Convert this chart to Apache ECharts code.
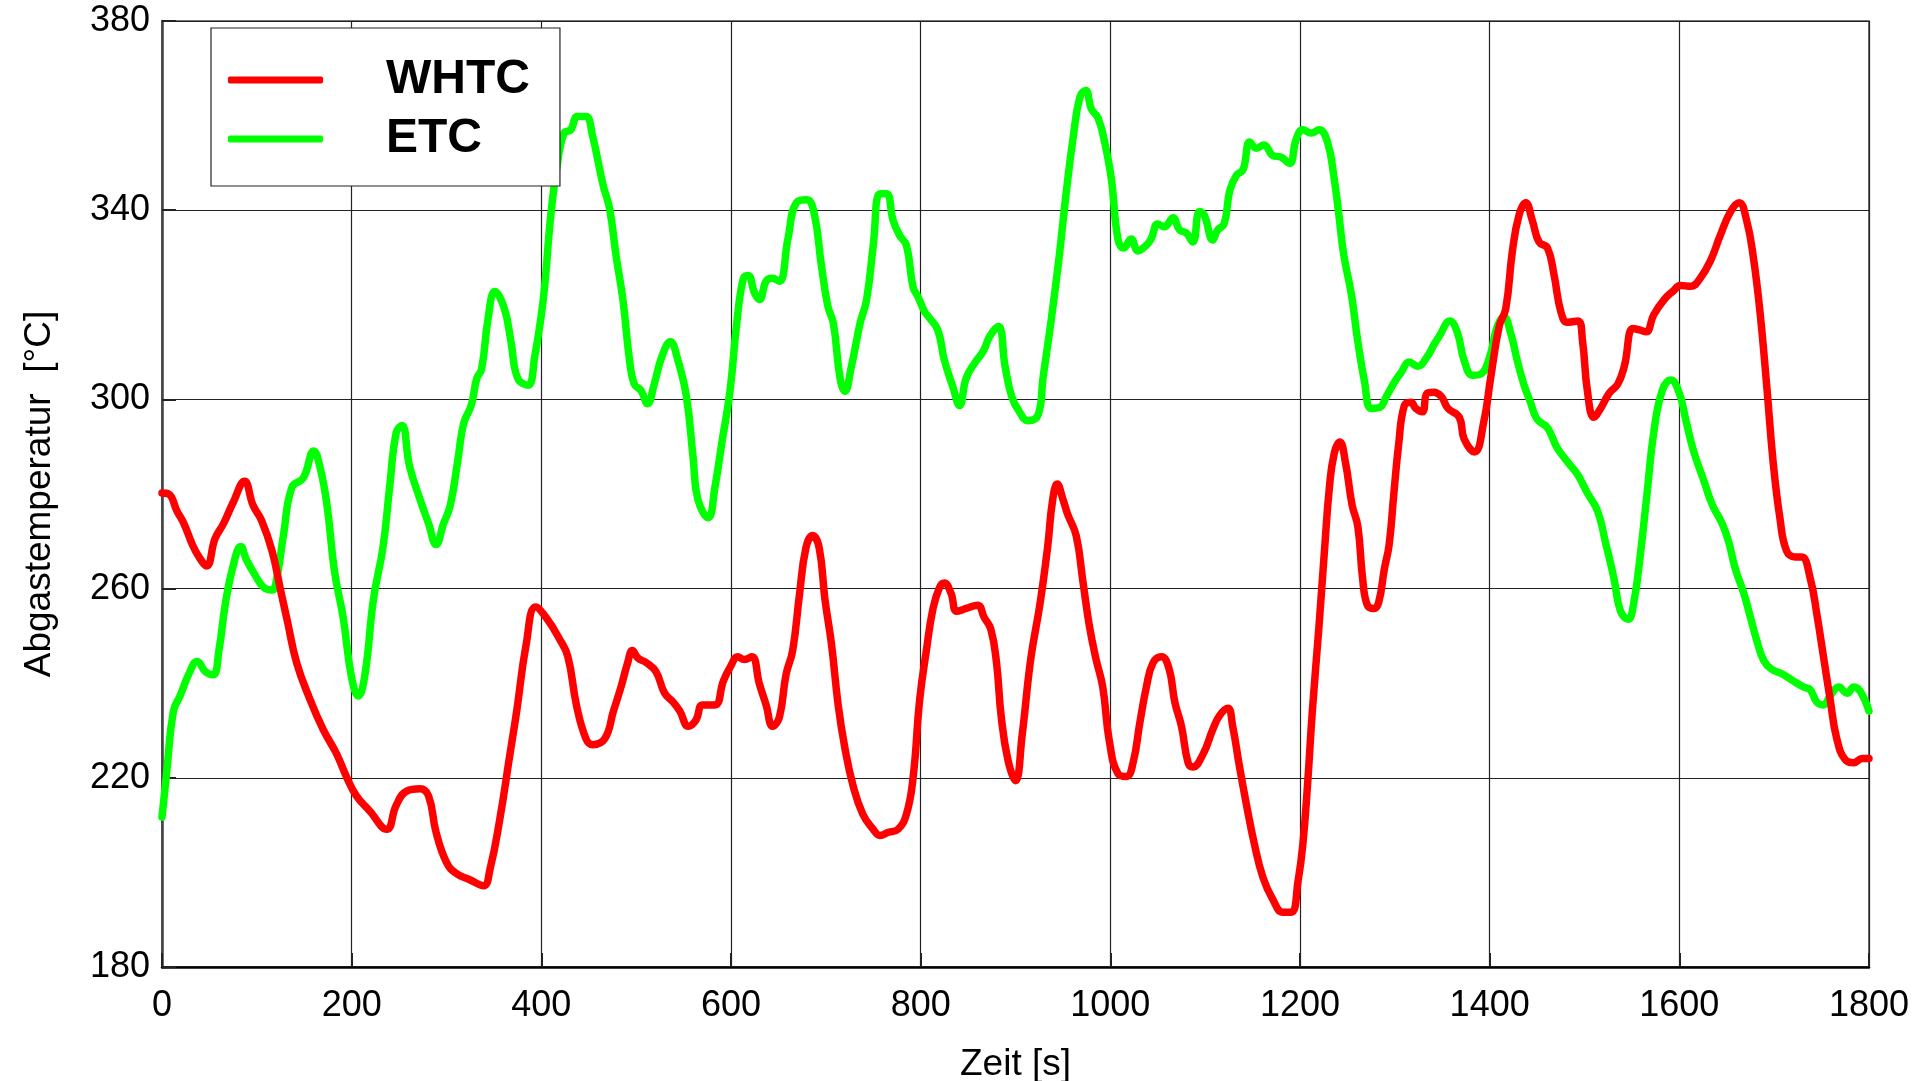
<!DOCTYPE html>
<html>
<head>
<meta charset="utf-8">
<script src="https://cdn.jsdelivr.net/npm/echarts@6/dist/echarts.min.js"></script>
<style>
  html, body { margin: 0; padding: 0; background: #fff; }
  #panel { width: 1915px; height: 1081px; }
</style>
</head>
<body>
<div id="panel"></div>
<script>
// Zeit [s] / Abgastemperatur [°C]
var whtcTime = [0,7,16,23,32,39,47,56,65,75,87,96,105,116,125,132,142,156,170,184,195,205,219,237,247,258,272,281,289,300,310,324,339,346,356,367,374,384,394,405,419,428,437,447,454,467,476,484,491,496,502,511,521,530,539,546,555,563,570,583,592,600,607,614,622,630,637,644,651,658,665,672,679,686,693,699,706,713,720,729,739,750,757,766,776,785,792,799,806,813,820,825,832,838,848,860,867,874,880,885,892,900,907,916,926,934,939,944,950,955,964,971,978,985,992,999,1008,1017,1024,1031,1038,1045,1054,1062,1068,1075,1082,1087,1098,1108,1115,1124,1129,1136,1143,1152,1161,1171,1182,1191,1198,1203,1208,1213,1220,1226,1231,1236,1242,1248,1255,1261,1266,1271,1278,1283,1289,1294,1299,1304,1310,1317,1322,1329,1334,1341,1349,1356,1368,1373,1384,1394,1401,1410,1417,1424,1431,1438,1445,1452,1461,1468,1475,1482,1493,1498,1503,1510,1517,1526,1535,1542,1551,1558,1565,1573,1584,1594,1601,1612,1622,1633,1643,1654,1663,1671,1678,1685,1692,1699,1706,1713,1722,1729,1738,1745,1752,1759,1766,1775,1784,1793,1800];
var whtcTemp = [280.2,280,276.3,273.8,269.3,266.7,264.8,270.6,273.8,278.2,282.7,277.6,274.4,268,259.7,253.3,244.3,236.6,230.2,225.1,220,216.2,213,209.1,214.2,217.2,217.7,216.2,208.5,202.1,199.8,198.5,197.2,200.8,211,225.1,234.1,248.2,256.1,253.9,249.4,245.6,235.4,228.3,227,228.3,234.1,239.2,244.3,246.9,245.3,244.3,242.4,237.9,236,234.1,230.9,232.2,235.4,235.4,240.5,243.7,245.6,245,245.6,239.8,235.4,230.9,232.8,241.8,246.9,258.4,268.6,271.2,268.6,257.8,248.2,235.4,226.4,218.1,212.3,209.1,207.8,208.5,209.1,212.3,220,236.6,246.9,255.8,260.3,261.2,259,255.2,255.8,256.5,253.9,251.4,244.3,232.8,223.8,219.4,229,245,257,269,278.5,282.1,278.9,275.7,271.2,261.6,252,245,239.2,227.7,220.9,220.3,223.2,231.5,239.2,244.3,245.6,243,236,230.9,223.2,222.3,225.1,230.2,233.1,234.7,230.9,222.6,214.9,205.9,198.9,194.4,191.6,191.6,198.2,205.9,218.7,234.1,252,268.6,281.4,288.5,291,286.6,277.6,273.1,262.2,256.5,255.8,257.1,264.2,269.3,280.2,290.4,298.7,299.4,298.1,297.4,301.3,301.5,300.6,298.1,296.2,291.7,288.9,295.5,304.5,315.4,319.2,331.4,339,341.6,337.8,333.3,332,326.2,318.6,316.3,316.6,312.2,301.9,296.2,298.1,301.3,303.2,307,315,314.7,314.3,317.9,321.1,323,324.1,323.9,325.6,329.4,334.6,339.7,341.6,337.8,330.1,318.6,303.2,286.6,275,268,266.7,266.7,262.2,254.6,245.6,236.6,228.3,223.8,223.2,224.1,224.1];

var etcTime = [0,5,12,19,28,37,46,54,60,67,75,83,89,98,107,116,121,128,137,149,160,167,174,182,191,200,207,214,223,233,240,247,253,261,272,281,289,297,304,312,318,326,332,337,344,351,361,368,375,386,393,402,410,417,424,431,438,447,454,465,472,479,486,493,498,505,512,519,527,536,544,553,560,565,576,583,590,599,606,613,618,625,630,637,643,651,660,669,680,688,695,702,708,715,720,727,736,743,750,757,764,771,778,785,792,797,804,809,818,825,834,841,848,857,866,873,882,889,896,904,913,924,929,938,946,953,961,968,974,980,987,994,1001,1008,1014,1022,1029,1038,1043,1050,1057,1066,1073,1080,1087,1094,1099,1108,1113,1120,1126,1133,1140,1147,1154,1162,1171,1180,1189,1196,1203,1212,1220,1229,1236,1241,1246,1254,1261,1268,1275,1284,1291,1300,1307,1315,1324,1334,1341,1347,1358,1366,1373,1382,1391,1400,1408,1415,1422,1429,1436,1443,1450,1461,1471,1482,1493,1503,1514,1522,1531,1538,1546,1552,1559,1566,1573,1582,1591,1600,1607,1615,1626,1635,1645,1652,1659,1668,1675,1682,1689,1697,1710,1720,1731,1738,1745,1752,1759,1768,1777,1784,1791,1800];
var etcTemp = [211.7,221.3,234.1,237.3,241.8,244.6,242.4,241.8,246.9,257.1,264.8,268.9,266.1,262.9,260.3,259.7,262.2,271.2,281.4,283.4,289.1,285.3,277.6,263.5,253.9,241.1,237.3,241.8,257.8,268.7,281.4,293,294.5,285.9,278.9,273.8,269.3,273.8,277.6,287.2,294.9,298.7,304.5,306.4,317.3,322.8,319.2,312.2,304.5,303,309,321.1,339,349.9,356.3,357,359.8,359.8,355.7,345.4,340.3,330.1,321.1,308.3,303.2,301.9,299.1,303.2,309,312.2,308.3,300.6,287.8,278.9,275,281.4,290.4,301.9,316,325.6,326.2,322.4,321.1,325,325.6,325,333.9,341.6,342.2,339,328.8,319.8,316,304.5,301.7,307,316,321.1,332.6,343.5,343.5,337.8,334.6,332.6,323.7,321.8,318.6,317.3,314.7,308.3,302.6,298.7,304.5,307.7,310.2,313.4,315.4,307,300.6,297.4,295.5,296.8,304.5,317.3,330.1,342.9,355.7,364,365.3,361.4,359.5,354.4,346.7,333.9,332,333.9,331.4,332.6,333.9,337.1,336.5,338.4,335.8,335.2,333.3,339.7,339,333.7,335.8,337.1,344.2,347.4,348.6,354.4,353.1,353.8,351.6,351.2,349.9,355,357,356.3,357,354.4,346.7,339,330.7,322.4,312.2,303.8,298.1,298.3,300.6,303.8,305.8,307.9,307,309,311.5,313.4,316.6,314.1,308.3,305.1,305.4,309,315.4,317.5,314.1,308.3,303.2,299.4,295.8,294,289.8,286.8,284,280.2,276.3,269.9,262.2,255.2,253.5,257.1,267.4,280.2,293,301.9,304.1,301.3,295.5,289.1,282.7,277.6,273.8,269.9,264.2,259,253.9,248.8,244.8,243,241.8,240.5,239.2,238.6,236,235.4,237.3,239.2,237.9,239.2,238.2,234.1];

var seriesNames = ['WHTC', 'ETC'];
var xTicks = [0, 200, 400, 600, 800, 1000, 1200, 1400, 1600, 1800];
var yTicks = [180, 220, 260, 300, 340, 380];

function pairs(t, v) {
    return t.map(function (x, i) { return [x, v[i]]; });
}

var chartDom = document.getElementById('panel');
var myChart = echarts.init(chartDom);
var font = "'Liberation Sans', Arial, sans-serif";

/** Linie wie im Original: dick, rund */
function lineSeries(name, t, v, color) {
    return {
        name: name, type: 'line', data: pairs(t, v),
        showSymbol: false, smooth: 0.45,
        itemStyle: { color: color },
        lineStyle: { color: color, width: 7.5, cap: 'round', join: 'round' }
    };
}

myChart.setOption({
    animation: false,
    backgroundColor: '#fff',
    grid: {
        left: 162, right: 46, top: 21, bottom: 114,
        outerBoundsMode: 'none',
        show: true, borderColor: '#444', borderWidth: 1.5
    },
    legend: {
        data: seriesNames,
        orient: 'vertical',
        left: 211, top: 28,
        padding: [27, 30, 22, 17],
        itemGap: 9,
        itemWidth: 95, itemHeight: 7,
        icon: 'roundRect',
        borderColor: '#222', borderWidth: 1.2,
        backgroundColor: '#fff',
        textStyle: {
            fontFamily: font, fontSize: 48, fontWeight: 'bold', color: '#000',
            lineHeight: 50, padding: [0, 0, 0, 58]
        }
    },
    xAxis: {
        type: 'value',
        min: xTicks[0], max: xTicks[xTicks.length - 1], interval: 200,
        name: 'Zeit [s]', nameLocation: 'middle', nameGap: 79,
        nameTextStyle: { fontFamily: font, fontSize: 37, color: '#000' },
        axisLine: { lineStyle: { color: '#000', width: 2.5 } },
        axisTick: { inside: true, length: 14, lineStyle: { color: '#222', width: 2 } },
        axisLabel: {
            fontFamily: font, fontSize: 36, color: '#000', margin: 21,
            formatter: function (v) { return String(v); }
        },
        splitLine: { lineStyle: { color: '#222', width: 1.2 } }
    },
    yAxis: {
        type: 'value',
        min: yTicks[0], max: yTicks[yTicks.length - 1], interval: 40,
        name: 'Abgastemperatur  [°C]', nameLocation: 'middle', nameGap: 104,
        nameTextStyle: { fontFamily: font, fontSize: 37, color: '#000' },
        axisLine: { show: true, lineStyle: { color: '#444', width: 2.5 } },
        axisTick: { show: true, inside: true, length: 14, lineStyle: { color: '#222', width: 2 } },
        axisLabel: {
            fontFamily: font, fontSize: 36, color: '#000', margin: 12,
            formatter: function (v) { return String(v); }
        },
        splitLine: { lineStyle: { color: '#222', width: 1.2 } }
    },
    series: [
        lineSeries('ETC', etcTime, etcTemp, '#00ff00'),
        lineSeries('WHTC', whtcTime, whtcTemp, '#ff0000')
    ]
});
</script>
</body>
</html>
